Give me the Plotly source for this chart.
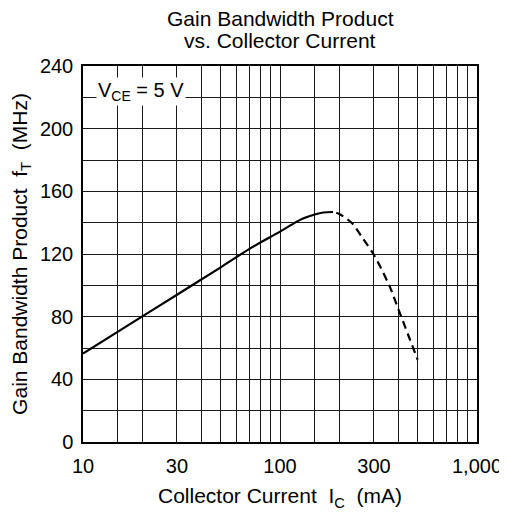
import plotly.graph_objects as go
import numpy as np

# Data
solid_x = [10, 20, 30, 50, 70, 100, 117, 131, 150, 166, 186]
solid_y = [56.5, 80.2, 94, 111.5, 123.3, 134.3, 139.4, 142.6, 145.2, 146.5, 146.8]
dash_x = [193, 200, 231, 265, 300, 359, 400, 450, 500]
dash_y = [146.3, 145.5, 140, 129.4, 119.4, 99.8, 84.4, 67.5, 52.5]

x_tickvals = [10, 30, 100, 300, 1000]
x_ticktext = ["10", "30", "100", "300", "1,000"]
x_gridvals = [15, 20, 40, 50, 60, 70, 80, 90, 150, 200, 400, 500, 600, 700, 800, 900]
y_tickvals = [0, 40, 80, 120, 160, 200, 240]

title_lines = ["Gain Bandwidth Product", "vs. Collector Current"]
x_title = "Collector Current  I<sub>C</sub>  (mA)"
y_title = "Gain Bandwidth Product  f<sub>T</sub>  (MHz)"
note_text = "V<sub>CE</sub> = 5 V"
note_x = 19.8
note_y = 224

FONT = "Arial, Liberation Sans, sans-serif"
GRID = "#1a1a1a"

fig = go.Figure()
fig.add_trace(go.Scatter(x=solid_x, y=solid_y, mode="lines",
                         line=dict(color="black", width=2.2, shape="spline", smoothing=0.8),
                         showlegend=False, hoverinfo="skip"))
fig.add_trace(go.Scatter(x=dash_x, y=dash_y, mode="lines",
                         line=dict(color="black", width=2.2, dash="8px,5px", shape="spline", smoothing=0.8),
                         showlegend=False, hoverinfo="skip"))

fig.add_annotation(x=np.log10(note_x), y=note_y, xref="x", yref="y", xanchor="center", yanchor="middle",
                   text=note_text, showarrow=False, bgcolor="white",
                   font=dict(family=FONT, size=20, color="black"), borderpad=1)

for line, shift in zip(title_lines, [48, 26]):
    fig.add_annotation(x=0.5, y=1, xref="paper", yref="paper", xanchor="center", yanchor="middle",
                       yshift=shift, text=line, showarrow=False,
                       font=dict(family=FONT, size=21, color="black"))

fig.update_layout(
    width=499, height=504,
    margin=dict(l=75, r=30, t=58, b=70, autoexpand=False),
    paper_bgcolor="white", plot_bgcolor="white",
    font=dict(family=FONT, size=20, color="black"),
    xaxis=dict(type="log", range=[1, 3], tickvals=x_tickvals, ticktext=x_ticktext,
               showgrid=True, gridcolor=GRID, gridwidth=1, automargin=False,
               ticks="outside", ticklen=5, tickcolor="rgba(0,0,0,0)",
               tickfont=dict(family=FONT, size=20),
               showline=True, linecolor="black", linewidth=1.5, mirror=True, zeroline=False,
               minor=dict(tickvals=x_gridvals, showgrid=True, gridcolor=GRID, gridwidth=1, ticks=""),
               title=dict(text=x_title, standoff=13, font=dict(family=FONT, size=21))),
    yaxis=dict(range=[0, 240], tickvals=y_tickvals, showgrid=True, gridcolor=GRID, gridwidth=1,
               automargin=False,
               ticks="outside", ticklen=4, tickcolor="rgba(0,0,0,0)",
               tickfont=dict(family=FONT, size=20),
               showline=True, linecolor="black", linewidth=1.5, mirror=True, zeroline=False,
               minor=dict(dtick=20, tick0=0, showgrid=True, gridcolor=GRID, gridwidth=1, ticks=""),
               title=dict(text=y_title, standoff=15, font=dict(family=FONT, size=21))),
)

fig.write_html("out.html")
